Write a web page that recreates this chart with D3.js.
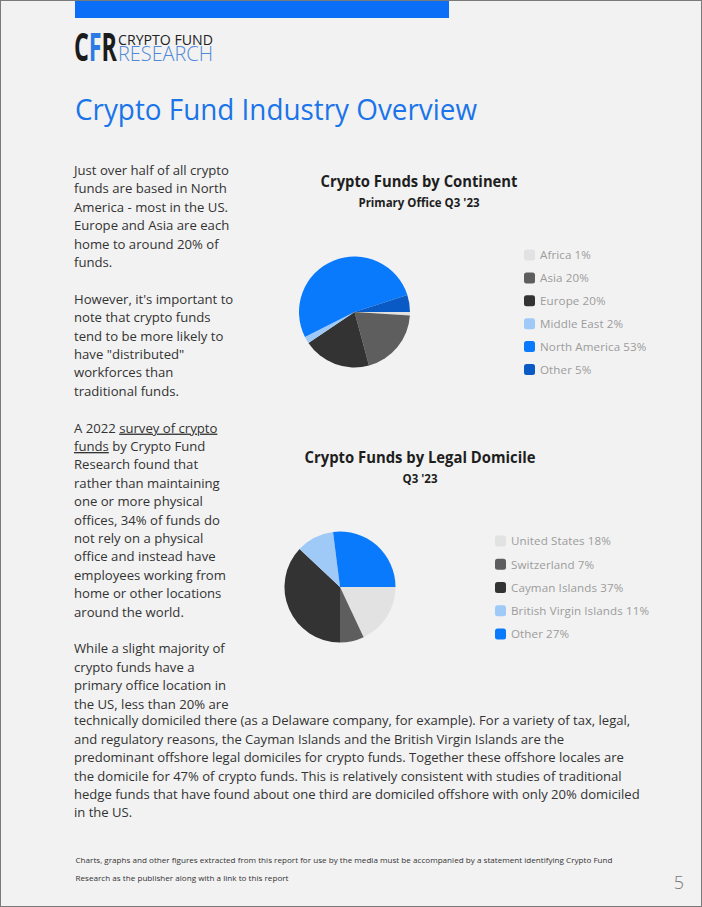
<!DOCTYPE html>
<html>
<head>
<meta charset="utf-8">
<script src="https://cdn.jsdelivr.net/npm/d3@7"></script>
<style>
  html, body { margin: 0; padding: 0; background: #f2f2f2; }
  svg { display: block; }
</style>
</head>
<body>
<svg id="page" width="702" height="907"></svg>
<script>
// ---------- chart data ----------
const continentLabels = ["Africa", "Asia", "Europe", "Middle East", "North America", "Other"];
const continentValues = [1, 20, 20, 2, 53, 5];
const continentColors = ["#e2e2e2", "#5e5e5e", "#333333", "#9fcaf8", "#0a7afd", "#0a5ac6"];

const domicileLabels = ["United States", "Switzerland", "Cayman Islands", "British Virgin Islands", "Other"];
const domicileValues = [18, 7, 37, 11, 27];
const domicileColors = ["#e2e2e2", "#5e5e5e", "#333333", "#9fcaf8", "#0a7afd"];

// ---------- page text ----------
const columnLines = [
  "Just over half of all crypto", "funds are based in North", "America - most in the US.",
  "Europe and Asia are each", "home to around 20% of", "funds.", "",
  "However, it's important to", "note that crypto funds", "tend to be more likely to",
  "have \"distributed\"", "workforces than", "traditional funds.", "",
  "A 2022 |survey of crypto |", "|funds| by Crypto Fund", "Research found that",
  "rather than maintaining", "one or more physical", "offices, 34% of funds do",
  "not rely on a physical", "office and instead have", "employees working from",
  "home or other locations", "around the world.", "",
  "While a slight majority of", "crypto funds have a", "primary office location in",
  "the US, less than 20% are"
];
const wideLines = [
  "technically domiciled there (as a Delaware company, for example). For a variety of tax, legal,",
  "and regulatory reasons, the Cayman Islands and the British Virgin Islands are the",
  "predominant offshore legal domiciles for crypto funds. Together these offshore locales are",
  "the domicile for 47% of crypto funds. This is relatively consistent with studies of traditional",
  "hedge funds that have found about one third are domiciled offshore with only 20% domiciled",
  "in the US."
];
const footerLines = [
  "Charts, graphs and other figures extracted from this report for use by the media must be accompanied by a statement identifying Crypto Fund",
  "Research as the publisher along with a link to this report"
];

const svg = d3.select("#page");
const FONT = "'Open Sans', 'Noto Sans', sans-serif";

svg.append("rect").attr("x", 0).attr("y", 0).attr("width", 702).attr("height", 907).attr("fill", "#f2f2f2");

// top bar
svg.append("rect").attr("x", 75).attr("y", 0).attr("width", 374).attr("height", 18).attr("fill", "#0a6ff6");

// logo: "CFR" monogram as one text, coloured by hard-stop gradient (black C, blue F, black R)
const defs = svg.append("defs");
const lg = defs.append("linearGradient").attr("id", "cfr")
  .attr("x1", 0).attr("x2", 1).attr("y1", 0).attr("y2", 0);
[[0, "#1b1b1b"], [0.34, "#1b1b1b"], [0.34, "#2c7be5"], [0.63, "#2c7be5"], [0.63, "#1b1b1b"], [1, "#1b1b1b"]]
  .forEach(([o, c]) => lg.append("stop").attr("offset", o).attr("stop-color", c));
const cfr = svg.append("text").attr("x", 0).attr("y", 0).attr("font-family", FONT).attr("font-size", 22)
  .attr("font-weight", 700).attr("fill", "url(#cfr)").text("CFR");
(function () {
  const w = cfr.node().getComputedTextLength();
  cfr.attr("transform", `translate(74,61) scale(${43 / w},${40 / 22})`);
})();
svg.append("text").attr("x", 118).attr("y", 45).attr("font-family", FONT).attr("font-size", 15).attr("fill", "#222")
  .attr("textLength", 95).attr("lengthAdjust", "spacingAndGlyphs").text("CRYPTO FUND");
svg.append("text").attr("x", 118).attr("y", 60.5).attr("font-family", FONT).attr("font-size", 20)
  .attr("font-weight", 300).attr("fill", "#4f88d6")
  .attr("textLength", 95).attr("lengthAdjust", "spacingAndGlyphs").text("RESEARCH");

// title
svg.append("text").attr("x", 75).attr("y", 120).attr("font-family", FONT).attr("font-size", 29)
  .attr("fill", "#1a74ea").attr("textLength", 402).attr("lengthAdjust", "spacingAndGlyphs")
  .text("Crypto Fund Industry Overview");

// body column
const LH = 18.4, BASE = 175;
const col = svg.append("g").attr("font-family", FONT).attr("font-size", 13.2).attr("fill", "#333");
columnLines.forEach((line, i) => {
  if (!line) return;
  const t = col.append("text").attr("x", 74).attr("y", BASE + i * LH);
  line.split("|").forEach((part, k) => {
    if (!part) return;
    const ts = t.append("tspan").text(part);
    if (k % 2 === 1) ts.attr("text-decoration", "underline");
  });
});
(function () {
  const w = col.select("text").node().getComputedTextLength();
  const s = 155 / w;
  col.attr("transform", `translate(74,0) scale(${s},1) translate(-74,0)`);
})();

const wide = svg.append("g").attr("font-family", FONT).attr("font-size", 13.2).attr("fill", "#333");
wideLines.forEach((line, i) => {
  wide.append("text").attr("x", 74).attr("y", BASE + (columnLines.length + i) * LH - 1.5).text(line);
});
(function () {
  const w = wide.select("text").node().getComputedTextLength();
  const s = 556 / w;
  wide.attr("transform", `translate(74,0) scale(${s},1) translate(-74,0)`);
})();

// ---------- pie charts ----------
function drawPie(opts) {
  const g = svg.append("g").attr("font-family", FONT);
  g.append("text").attr("x", opts.tx).attr("y", opts.titleY).attr("text-anchor", "middle")
    .attr("font-size", 15.5).attr("font-weight", 700).attr("fill", "#1e1e1e")
    .attr("textLength", opts.titleW).attr("lengthAdjust", "spacingAndGlyphs").text(opts.title);
  g.append("text").attr("x", opts.tx).attr("y", opts.subY).attr("text-anchor", "middle")
    .attr("font-size", 11.5).attr("font-weight", 700).attr("fill", "#1e1e1e").text(opts.subtitle);

  const pie = d3.pie().sort(null).value(d => d.v)
    .startAngle(Math.PI / 2).endAngle(Math.PI / 2 + 2 * Math.PI);
  const arc = d3.arc().innerRadius(0).outerRadius(opts.r);
  const data = opts.labels.map((l, i) => ({ l, v: opts.values[i] }));
  const color = d3.scaleOrdinal().domain(opts.labels).range(opts.colors);

  g.append("g").attr("transform", `translate(${opts.cx},${opts.cy})`)
    .selectAll("path").data(pie(data)).join("path")
    .attr("d", arc).attr("fill", d => color(d.data.l));

  const y = d3.scalePoint().domain(opts.labels).range([opts.legY0, opts.legY1]);
  const leg = g.append("g").selectAll("g").data(data).join("g")
    .attr("transform", d => `translate(${opts.legX},${y(d.l)})`);
  leg.append("rect").attr("x", 0).attr("y", -5.5).attr("width", 11).attr("height", 11)
    .attr("rx", 2.5).attr("fill", d => color(d.l));
  leg.append("text").attr("x", 16).attr("y", 4.3).attr("font-size", 11.6).attr("fill", "#9c9c9c")
    .attr("letter-spacing", 0.1)
    .text(d => `${d.l} ${d.v}%`);
}

drawPie({
  title: "Crypto Funds by Continent", subtitle: "Primary Office Q3 '23",
  tx: 419, titleY: 187, subY: 206.5, titleW: 197,
  labels: continentLabels, values: continentValues, colors: continentColors,
  cx: 354.5, cy: 312, r: 55.5,
  legX: 524, legY0: 255, legY1: 369.5
});

drawPie({
  title: "Crypto Funds by Legal Domicile", subtitle: "Q3 '23",
  tx: 420, titleY: 463, subY: 482.5, titleW: 231,
  labels: domicileLabels, values: domicileValues, colors: domicileColors,
  cx: 340, cy: 587, r: 55.5,
  legX: 495, legY0: 541, legY1: 634
});

// footer
const foot = svg.append("g").attr("font-family", FONT).attr("font-size", 8).attr("fill", "#333");
foot.append("text").attr("x", 75.5).attr("y", 863).attr("textLength", 537)
  .attr("lengthAdjust", "spacingAndGlyphs").text(footerLines[0]);
foot.append("text").attr("x", 75.5).attr("y", 881).attr("textLength", 213)
  .attr("lengthAdjust", "spacingAndGlyphs").text(footerLines[1]);
svg.append("text").attr("x", 684).attr("y", 889).attr("text-anchor", "end")
  .attr("font-family", FONT).attr("font-size", 18).attr("font-weight", 300).attr("fill", "#777").text("5");

// page frame
svg.append("rect").attr("x", 0.5).attr("y", 0.5).attr("width", 701).attr("height", 906)
  .attr("fill", "none").attr("stroke", "#7a7a7a").attr("stroke-width", 1);
</script>
</body>
</html>
